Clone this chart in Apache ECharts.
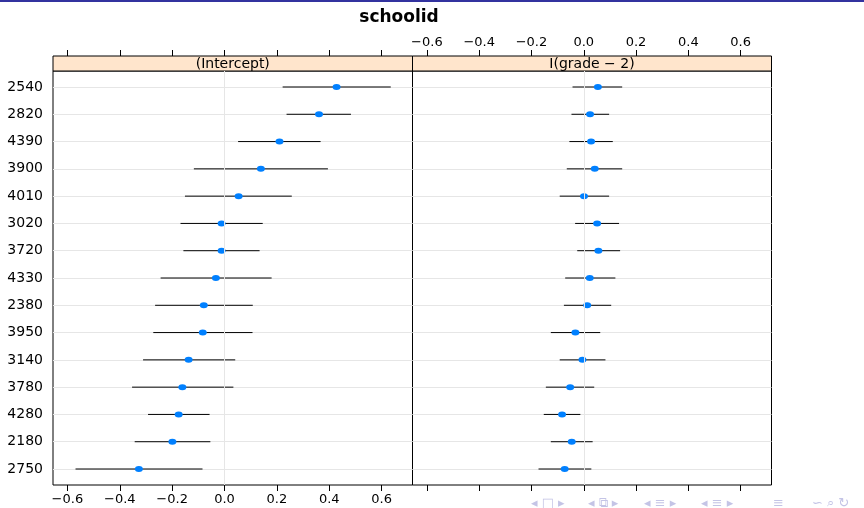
<!DOCTYPE html>
<html>
<head>
<meta charset="utf-8">
<script src="https://cdn.jsdelivr.net/npm/echarts@6/dist/echarts.min.js"></script>
<style>
  html, body { margin: 0; padding: 0; background: #fff; }
  #main { width: 864px; height: 508px; }
</style>
</head>
<body>
<div id="main"></div>
<script>
// schools, top to bottom
var schools = ['2540', '2820', '4390', '3900', '4010', '3020', '3720', '4330', '2380', '3950', '3140', '3780', '4280', '2180', '2750'];
// (Intercept) panel
var interceptEst = [0.428, 0.361, 0.210, 0.139, 0.054, -0.011, -0.011, -0.033, -0.079, -0.083, -0.137, -0.161, -0.175, -0.199, -0.327];
var interceptLo = [0.222, 0.237, 0.052, -0.117, -0.151, -0.168, -0.157, -0.244, -0.265, -0.272, -0.311, -0.353, -0.292, -0.343, -0.569];
var interceptHi = [0.635, 0.483, 0.367, 0.395, 0.257, 0.146, 0.134, 0.180, 0.108, 0.107, 0.041, 0.034, -0.057, -0.054, -0.084];
// I(grade - 2) panel
var gradeEst = [0.054, 0.024, 0.028, 0.042, 0.001, 0.051, 0.056, 0.023, 0.013, -0.032, -0.005, -0.052, -0.083, -0.046, -0.073];
var gradeLo = [-0.043, -0.047, -0.055, -0.065, -0.092, -0.033, -0.025, -0.071, -0.076, -0.126, -0.092, -0.145, -0.153, -0.126, -0.173];
var gradeHi = [0.147, 0.097, 0.111, 0.147, 0.097, 0.135, 0.139, 0.121, 0.105, 0.063, 0.083, 0.040, -0.013, 0.034, 0.029];
var xTicks = [-0.6, -0.4, -0.2, 0, 0.2, 0.4, 0.6];
var panelNames = ['(Intercept)', 'I(grade \u2212 2)'];

var rows = schools.map(function (s, i) { return i + 1; });
var font = 'DejaVu Sans';

// 布局
var panelTop = 71, panelH = 414, stripTop = 56, stripH = 15;
var lefts = [53, 412.5], widths = [359.5, 359];
var xMin = -0.655, xMax = 0.718;

function fmtX(v) {
    return (v < 0 ? '\u2212' : '') + Math.abs(v).toFixed(1);
}

function barItem(params, api) {
    var y = api.value(2);
    var p1 = api.coord([api.value(0), y]);
    var p2 = api.coord([api.value(1), y]);
    return {
        type: 'line',
        shape: { x1: p1[0], y1: p1[1], x2: p2[0], y2: p2[1] },
        style: { stroke: '#000', lineWidth: 1 }
    };
}

var grids = [], xAxes = [], yAxes = [], series = [], graphics = [];
var ests = [interceptEst, gradeEst], los = [interceptLo, gradeLo], his = [interceptHi, gradeHi];

for (var p = 0; p < 2; p++) {
    // panel
    grids.push({ left: lefts[p], top: panelTop, width: widths[p], height: panelH, show: true, borderColor: '#000', borderWidth: 1, backgroundColor: '#fff' });
    // strip
    grids.push({ left: lefts[p], top: stripTop, width: widths[p], height: stripH, show: true, borderColor: '#000', borderWidth: 1, backgroundColor: '#ffe5cc' });
    var g = p * 2;

    xAxes.push({
        gridIndex: g, type: 'value', min: xMin, max: xMax, position: 'bottom',
        axisLine: { show: false, onZero: false },
        axisTick: { show: true, inside: false, length: 6, customValues: xTicks, lineStyle: { color: '#000' } },
        axisLabel: { show: p === 0, customValues: xTicks, formatter: fmtX, margin: 8, color: '#000', fontFamily: font, fontSize: 13 },
        splitLine: { show: false }
    });
    xAxes.push({
        gridIndex: g + 1, type: 'value', min: xMin, max: xMax, position: 'top',
        axisLine: { show: false, onZero: false },
        axisTick: { show: true, inside: false, length: 6, customValues: xTicks, lineStyle: { color: '#000' } },
        axisLabel: { show: p === 1, customValues: xTicks, formatter: fmtX, margin: 7, color: '#000', fontFamily: font, fontSize: 13 },
        splitLine: { show: false }
    });
    yAxes.push({
        gridIndex: g, type: 'value', min: 0.414, max: 15.586, inverse: true, position: 'left',
        axisLine: { show: false, onZero: false },
        axisTick: { show: false, customValues: rows },
        axisLabel: {
            show: p === 0, customValues: rows, margin: 10, color: '#000', fontFamily: font, fontSize: 14,
            formatter: function (v) { return schools[Math.round(v) - 1]; }
        },
        splitLine: { show: true, lineStyle: { color: '#e6e6e6', width: 1 } }
    });
    yAxes.push({ gridIndex: g + 1, type: 'value', min: 0, max: 1, show: false, axisLine: { onZero: false } });

    var barData = [], ptData = [];
    for (var i = 0; i < schools.length; i++) {
        barData.push([los[p][i], his[p][i], rows[i]]);
        ptData.push([ests[p][i], rows[i]]);
    }
    series.push({
        type: 'custom', xAxisIndex: g, yAxisIndex: g, renderItem: barItem,
        encode: { x: [0, 1], y: 2 }, data: barData, z: 2, silent: true,
        markLine: {
            silent: true, symbol: 'none', label: { show: false }, animation: false,
            lineStyle: { color: '#e6e6e6', type: 'solid', width: 1 },
            data: [{ xAxis: 0 }]
        }
    });
    series.push({
        type: 'scatter', xAxisIndex: g, yAxisIndex: g, data: ptData,
        symbol: 'circle', symbolSize: [8, 6], itemStyle: { color: '#0080ff', opacity: 1 }, z: 3
    });

    graphics.push({
        type: 'text', x: lefts[p] + widths[p] / 2, y: stripTop + stripH / 2 + 1,
        style: { text: panelNames[p], fill: '#000', font: '14px "' + font + '"', textAlign: 'center', textVerticalAlign: 'middle' }
    });
}

// beamer 顶部蓝条和导航符号
graphics.push({ type: 'rect', shape: { x: 0, y: 0, width: 864, height: 2 }, style: { fill: '#33339f' } });
var navItems = [['\u25C2 \u25A1 \u25B8', 531], ['\u25C2 \u29C9 \u25B8', 588], ['\u25C2 \u2261 \u25B8', 644], ['\u25C2 \u2261 \u25B8', 701], ['\u2261', 773], ['\u223D \u2315 \u21BB', 812]];
navItems.forEach(function (n) {
    graphics.push({
        type: 'text', x: n[1], y: 504,
        style: { text: n[0], fill: '#c4c4e6', font: '13px "' + font + '"', textVerticalAlign: 'middle' }
    });
});

var myChart = echarts.init(document.getElementById('main'));
myChart.setOption({
    animation: false,
    backgroundColor: '#fff',
    title: {
        text: 'schoolid', left: 394, top: 4, textAlign: 'center',
        textStyle: { fontFamily: font, fontWeight: 'bold', fontSize: 17, color: '#000' }
    },
    grid: grids,
    xAxis: xAxes,
    yAxis: yAxes,
    series: series,
    graphic: graphics
});
</script>
</body>
</html>
